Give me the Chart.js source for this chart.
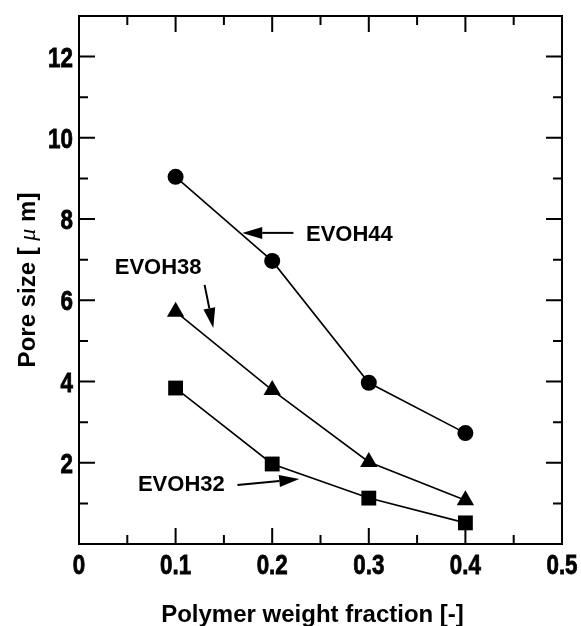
<!DOCTYPE html>
<html>
<head>
<meta charset="utf-8">
<script src="https://cdn.jsdelivr.net/npm/chart.js@4/dist/chart.umd.min.js"></script>
<style>
  html, body { margin: 0; padding: 0; background: #fff; }
  #wrap { width: 581px; height: 626px; }
</style>
</head>
<body>
<div id="wrap"><canvas id="poreChart" width="581" height="626"></canvas></div>
<script>
// --- data ---
const fractions = [0.1, 0.2, 0.3, 0.4];
const evoh44 = [9.04, 6.97, 3.97, 2.73];
const evoh38 = [5.72, 3.79, 2.02, 1.08];
const evoh32 = [3.84, 1.97, 1.13, 0.52];

const seriesNames = ['EVOH44', 'EVOH38', 'EVOH32'];
const xTickValues = [0, 0.1, 0.2, 0.3, 0.4, 0.5];
const yTickValues = [2, 4, 6, 8, 10, 12];

const toPoints = (ys) => fractions.map((f, i) => ({ x: f, y: ys[i] }));

// frame with inward major / minor ticks on all four sides
const frameTicks = {
  id: 'frameTicks',
  beforeDatasetsDraw(chart) {
    const { ctx, chartArea: a, scales: { x, y } } = chart;
    ctx.save();
    ctx.strokeStyle = '#000';
    ctx.lineWidth = 2;
    ctx.strokeRect(a.left, a.top, a.right - a.left, a.bottom - a.top);
    ctx.beginPath();
    for (let i = 1; i < 10; i++) {
      const px = x.getPixelForValue(i * 0.05);
      const len = i % 2 === 0 ? 16 : 9;
      ctx.moveTo(px, a.bottom); ctx.lineTo(px, a.bottom - len);
      ctx.moveTo(px, a.top); ctx.lineTo(px, a.top + len);
    }
    for (let i = 1; i < 13; i++) {
      const py = y.getPixelForValue(i);
      const len = i % 2 === 0 ? 16 : 9;
      ctx.moveTo(a.left, py); ctx.lineTo(a.left + len, py);
      ctx.moveTo(a.right, py); ctx.lineTo(a.right - len, py);
    }
    ctx.stroke();
    ctx.restore();
  }
};

// condensed bold tick labels (the original uses a narrow face)
const condensedTicks = {
  id: 'condensedTicks',
  afterDraw(chart) {
    const { ctx, chartArea: a, scales: { x, y } } = chart;
    const squeeze = 0.8;
    ctx.save();
    ctx.fillStyle = '#000';
    ctx.strokeStyle = '#000';
    ctx.lineWidth = 0.8;
    ctx.font = "bold 28px 'Liberation Sans', Arial, sans-serif";
    const put = (label, left, base) => {
      ctx.save();
      ctx.translate(left, base);
      ctx.scale(squeeze, 1);
      ctx.textBaseline = 'alphabetic';
      ctx.fillText(label, 0, 0);
      ctx.strokeText(label, 0, 0);
      ctx.restore();
    };
    x.ticks.forEach(t => {
      const label = String(t.value);
      const w = ctx.measureText(label).width * squeeze;
      put(label, x.getPixelForValue(t.value) - w / 2, a.bottom + 30);
    });
    y.ticks.forEach(t => {
      const label = String(t.value);
      const w = ctx.measureText(label).width * squeeze;
      put(label, a.left - 6 - w, y.getPixelForValue(t.value) + 10);
    });
    ctx.restore();
  }
};

function arrow(ctx, x1, y1, x2, y2) {
  const ang = Math.atan2(y2 - y1, x2 - x1);
  const headLen = 20, headW = 6;
  const bx = x2 - Math.cos(ang) * headLen, by = y2 - Math.sin(ang) * headLen;
  ctx.beginPath();
  ctx.moveTo(x1, y1);
  ctx.lineTo(bx, by);
  ctx.stroke();
  ctx.beginPath();
  ctx.moveTo(x2, y2);
  ctx.lineTo(bx + Math.sin(ang) * headW, by - Math.cos(ang) * headW);
  ctx.lineTo(bx - Math.sin(ang) * headW, by + Math.cos(ang) * headW);
  ctx.closePath();
  ctx.fill();
}

// series labels with arrows, placed in data units
const seriesLabels = {
  id: 'seriesLabels',
  afterDatasetsDraw(chart) {
    const { ctx, scales: { x, y } } = chart;
    const X = (v) => x.getPixelForValue(v), Y = (v) => y.getPixelForValue(v);
    ctx.save();
    ctx.fillStyle = '#000';
    ctx.strokeStyle = '#000';
    ctx.lineWidth = 2;
    ctx.font = "bold 22px 'Liberation Sans', Arial, sans-serif";
    ctx.textBaseline = 'middle';
    ctx.textAlign = 'left';

    ctx.fillText(seriesNames[0], X(0.235), Y(7.62));
    arrow(ctx, X(0.222), Y(7.66), X(0.169), Y(7.66));

    ctx.fillText(seriesNames[1], X(0.037), Y(6.8));
    arrow(ctx, X(0.130), Y(6.38), X(0.139), Y(5.32));

    ctx.fillText(seriesNames[2], X(0.061), Y(1.45));
    arrow(ctx, X(0.164), Y(1.45), X(0.228), Y(1.60));
    ctx.restore();
  }
};

// axis titles (y title has an italic mu)
const axisTitles = {
  id: 'axisTitles',
  afterDraw(chart) {
    const { ctx, chartArea: a } = chart;
    const bold = "bold 24px 'Liberation Sans', Arial, sans-serif";
    ctx.save();
    ctx.fillStyle = '#000';
    ctx.textBaseline = 'alphabetic';
    ctx.font = bold;
    ctx.textAlign = 'center';
    ctx.fillText('Polymer weight fraction [-]', (a.left + a.right) / 2 - 8, a.bottom + 78);

    const parts = [
      { t: 'Pore size [ ', f: bold },
      { t: 'μ', f: "italic 24px 'Liberation Serif', 'Times New Roman', serif" },
      { t: ' m]', f: bold }
    ];
    let total = 0;
    parts.forEach(p => { ctx.font = p.f; p.w = ctx.measureText(p.t).width; total += p.w; });
    ctx.translate(35, (a.top + a.bottom) / 2);
    ctx.rotate(-Math.PI / 2);
    ctx.textAlign = 'left';
    let cx = -total / 2;
    parts.forEach(p => { ctx.font = p.f; ctx.fillText(p.t, cx, 0); cx += p.w; });
    ctx.restore();
  }
};

const common = {
  borderColor: '#000',
  backgroundColor: '#000',
  pointBackgroundColor: '#000',
  pointBorderColor: '#000',
  borderWidth: 1.6,
  pointBorderWidth: 0,
  showLine: true,
  tension: 0
};

new Chart(document.getElementById('poreChart').getContext('2d'), {
  type: 'scatter',
  data: {
    datasets: [
      { ...common, label: seriesNames[0], data: toPoints(evoh44), pointStyle: 'circle', pointRadius: 8 },
      { ...common, label: seriesNames[1], data: toPoints(evoh38), pointStyle: 'triangle', pointRadius: 10 },
      { ...common, label: seriesNames[2], data: toPoints(evoh32), pointStyle: 'rect', pointRadius: 10.5 }
    ]
  },
  options: {
    responsive: false,
    animation: false,
    layout: { padding: { top: 16, right: 19, left: 0, bottom: 0 } },
    plugins: { legend: { display: false }, tooltip: { enabled: false } },
    scales: {
      x: {
        type: 'linear',
        min: 0,
        max: 0.5,
        grid: { display: false },
        border: { display: false },
        afterBuildTicks: (s) => { s.ticks = xTickValues.map(v => ({ value: v })); },
        afterFit: (s) => { s.height = 82; },
        ticks: { display: false }
      },
      y: {
        type: 'linear',
        min: 0,
        max: 13,
        grid: { display: false },
        border: { display: false },
        afterBuildTicks: (s) => { s.ticks = yTickValues.map(v => ({ value: v })); },
        afterFit: (s) => { s.width = 79; },
        ticks: { display: false }
      }
    }
  },
  plugins: [frameTicks, seriesLabels, condensedTicks, axisTitles]
});
</script>
</body>
</html>
